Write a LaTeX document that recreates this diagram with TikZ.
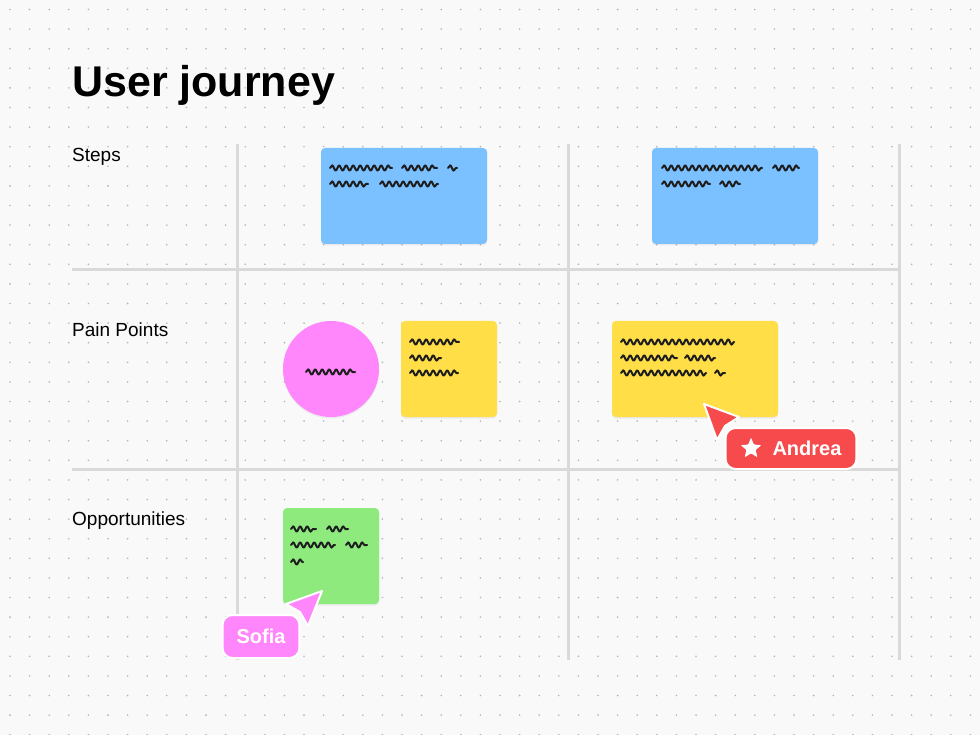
\documentclass[tikz,border=0pt]{standalone}
\usepackage{fontspec}
\setmainfont{Liberation Sans}
\usetikzlibrary{shapes,positioning,decorations.pathmorphing,shadows}
\definecolor{bgc}{HTML}{F9F9F9}
\definecolor{dotc}{HTML}{B4B4B4}
\definecolor{lanec}{HTML}{D9D9D9}
\definecolor{ink}{HTML}{1E1E1E}
\definecolor{bluec}{HTML}{7BC1FF}
\definecolor{yellowc}{HTML}{FFDE47}
\definecolor{pinkc}{HTML}{FF86FB}
\definecolor{greenc}{HTML}{8FEA7E}
\definecolor{andreac}{HTML}{F64A4C}
\tikzstyle{note}=[rectangle,rounded corners=4pt,inner sep=0pt,drop shadow={shadow xshift=0pt,shadow yshift=-1.5pt,opacity=.12}]
\tikzstyle{scrib}=[draw=ink,line width=2pt,line cap=round,line join=round,decorate,decoration={snake,segment length=7pt,amplitude=2.6pt}]
\tikzstyle{lane}=[draw=lanec,line width=3pt]
\tikzstyle{rowlbl}=[anchor=base west,inner sep=0pt,font=\fontsize{19}{22}\selectfont]
\tikzstyle{tag}=[rectangle,rounded corners=10pt,draw=white,line width=2pt,text=white,font=\fontsize{20}{22}\selectfont\bfseries,inner ysep=0pt]
\tikzstyle{cursor}=[draw=white,line width=2pt,line join=round]
\newcommand{\scribble}[3]{\draw[scrib] (#1,#3) -- (#2,#3);}

\begin{document}
\begin{tikzpicture}[x=1pt,y=-1pt]
\useasboundingbox (0,0) rectangle (980,735);
\fill[bgc] (0,0) rectangle (980,735);
% dot grid
\foreach \i in {0,...,49}
  \foreach \j in {0,...,37}
    \fill[dotc] (10+19.6*\i,9.5+19.6*\j) circle (0.9);

\node[anchor=base west,inner sep=0pt,font=\fontsize{43}{48}\selectfont\bfseries] (T) at (72,97) {User journey};

% lanes
\draw[lane] (237,144) -- (237,660);
\draw[lane] (568,144) -- (568,660);
\draw[lane] (899,144) -- (899,660);
\draw[lane] (72,270) -- (899,270);
\draw[lane] (72,469) -- (899,469);

\node[rowlbl] (L1) at (72,162) {Steps};
\node[rowlbl] (L2) at (72,336.5) {Pain Points};
\node[rowlbl] (L3) at (72,525.5) {Opportunities};

% steps
\node[note,fill=bluec,minimum width=166pt,minimum height=96pt] (S1) at (404,196) {};
\node[note,fill=bluec,minimum width=166pt,minimum height=96pt] (S2) at (735,196) {};
\scribble{330}{392}{168} \scribble{402}{437}{168} \scribble{448}{457}{168}
\scribble{330}{368}{184} \scribble{380}{438}{184}
\scribble{662}{762}{168} \scribble{773}{799}{168}
\scribble{662}{710}{184} \scribble{720}{740}{184}

% pain points
\node[circle,fill=pinkc,minimum size=96pt,inner sep=0pt,drop shadow={shadow xshift=0pt,shadow yshift=-1.5pt,opacity=.12}] (P1) at (331,369) {};
\node[note,fill=yellowc,minimum width=96pt,minimum height=96pt] (P2) at (449,369) {};
\node[note,fill=yellowc,minimum width=166pt,minimum height=96pt] (P3) at (695,369) {};
\scribble{306}{355}{372}
\scribble{410}{459}{342} \scribble{410}{441}{358} \scribble{410}{458}{373}
\scribble{621}{734}{342}
\scribble{621}{677}{358} \scribble{685}{715}{358}
\scribble{621}{706}{373} \scribble{715}{725}{373}

% opportunities
\node[note,fill=greenc,minimum width=96pt,minimum height=96pt] (O1) at (331,556) {};
\scribble{291}{316}{529} \scribble{327}{348}{529}
\scribble{291}{335}{545} \scribble{346}{367}{545}
\scribble{291}{303}{562}

% cursors
\filldraw[cursor,fill=andreac] (704,404) -- (739,417) -- (725,426) -- (717,440) -- cycle;
\node[tag,fill=andreac,minimum height=41pt,inner xsep=15pt] (AT) at (791,448.5) {\hspace{32pt}Andrea};
\node[star,star points=5,star point ratio=2.3,fill=white,minimum size=22pt,inner sep=0pt,rounded corners=1pt] (AS) at ([xshift=26.5pt]AT.west) {};

\filldraw[cursor,fill=pinkc] (322,591) -- (286,604) -- (300,612) -- (308,626) -- cycle;
\node[tag,fill=pinkc,minimum height=43pt,inner xsep=14pt] (ST) at (261,636.5) {Sofia};
\end{tikzpicture}
\end{document}
